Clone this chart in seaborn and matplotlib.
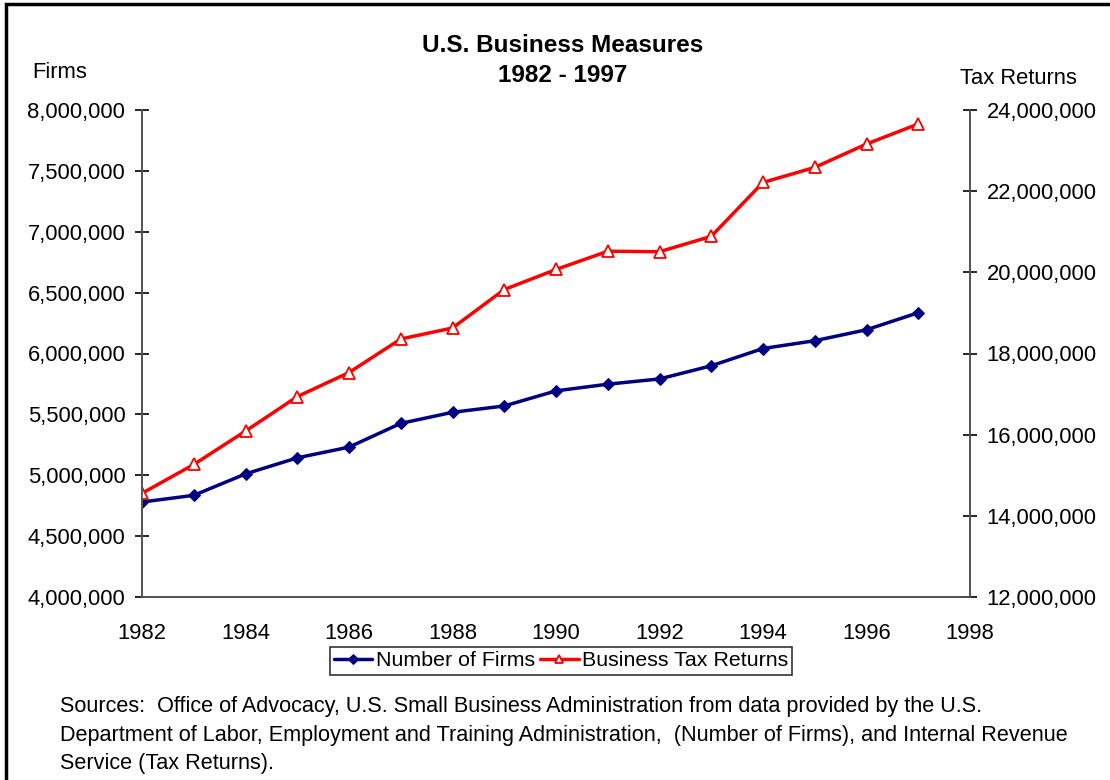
import numpy as np
import pandas as pd
import matplotlib
matplotlib.use("Agg")
import matplotlib.pyplot as plt
import matplotlib.ticker as mtick
import seaborn as sns

# values
years = list(range(1982, 1998))
firms = [4780000, 4835000, 5011000, 5143000, 5231000, 5426000, 5517000, 5569000,
         5693000, 5748000, 5791000, 5899000, 6041000, 6105000, 6195000, 6335000]
tax_returns = [14555000, 15265000, 16088000, 16937000, 17531000, 18357000, 18629000, 19576000,
               20070000, 20520000, 20508000, 20887000, 22215000, 22586000, 23162000, 23656000]
xticks = list(range(1982, 1999, 2))

df = pd.DataFrame({'Year': years, 'Firms': firms, 'Tax': tax_returns})

sns.set_style("white")
plt.rcParams['font.family'] = ['Liberation Sans', 'DejaVu Sans']
plt.rcParams['text.color'] = 'black'
plt.rcParams['xtick.color'] = 'black'
plt.rcParams['ytick.color'] = 'black'
fs = 15.8

fig = plt.figure(figsize=(11.1, 7.8), dpi=100)
ax = fig.add_axes([142/1110, 1-597/780, (970-142)/1110, (597-110)/780])
ax2 = ax.twinx()

sns.lineplot(data=df, x='Year', y='Firms', ax=ax, color='#000080', marker='D',
             markersize=6, markeredgecolor='#000080', linewidth=2.5, label='Number of Firms', legend=False)
sns.lineplot(data=df, x='Year', y='Tax', ax=ax2, color='#ff0000', marker='^',
             markersize=8, markerfacecolor='white', markeredgecolor='#ff0000', markeredgewidth=1.3,
             linewidth=2.5, label='Business Tax Returns', legend=False)

ax.set_xlim(1982, 1998)
ax.set_ylim(4000000, 8000000)
ax2.set_ylim(12000000, 24000000)
ax.set_xticks(xticks)
ax.set_yticks(np.arange(4000000, 8000001, 500000))
ax2.set_yticks(np.arange(12000000, 24000001, 2000000))
fmt = mtick.FuncFormatter(lambda v, p: f'{int(v):,}')
ax.yaxis.set_major_formatter(fmt)
ax2.yaxis.set_major_formatter(fmt)
ax.set_xlabel('')
ax.set_ylabel('')
ax2.set_ylabel('')

for a in (ax, ax2):
    a.spines['top'].set_visible(False)
    for s in ('left', 'right', 'bottom'):
        a.spines[s].set_color('#555555')
        a.spines[s].set_linewidth(1.3)
    a.tick_params(direction='inout', length=10, width=1.2, color='black', labelsize=fs,
                  labelcolor='black', pad=7)
ax.tick_params(axis='x', pad=14)

fig.text(563/1110, 1-45/780, 'U.S. Business Measures', ha='center', va='center',
         fontsize=17.5, fontweight='bold')
fig.text(563/1110, 1-76/780, '1982 - 1997', ha='center', va='center',
         fontsize=17.5, fontweight='bold')
fig.text(32/1110, 1-73/780, 'Firms', ha='left', va='center', fontsize=fs)
fig.text(1077/1110, 1-78/780, 'Tax Returns', ha='right', va='center', fontsize=fs)

h1, l1 = ax.get_legend_handles_labels()
h2, l2 = ax2.get_legend_handles_labels()
leg = fig.legend(h1 + h2, l1 + l2, loc='center', bbox_to_anchor=(561/1110, 1-661/780), ncol=2,
                 frameon=True, fancybox=False, edgecolor='black', fontsize=15.4,
                 handlelength=1.8, handletextpad=0.15, columnspacing=0.25,
                 borderpad=0.2, borderaxespad=0, markerscale=0.8)
leg.get_frame().set_linewidth(1.2)

sources = ("Sources:  Office of Advocacy, U.S. Small Business Administration from data provided by the U.S.\n"
           "Department of Labor, Employment and Training Administration,  (Number of Firms), and Internal Revenue\n"
           "Service (Tax Returns).")
fig.text(60/1110, 1-696/780, sources, ha='left', va='top', fontsize=15.6, linespacing=1.48)

# outer frame
fig.patches.append(plt.Rectangle((6/1110, -0.05), 1.2, 1 - 4/780 + 0.05, transform=fig.transFigure,
                                 fill=False, edgecolor='black', linewidth=2.5))

fig.savefig('out.png', dpi=100)
